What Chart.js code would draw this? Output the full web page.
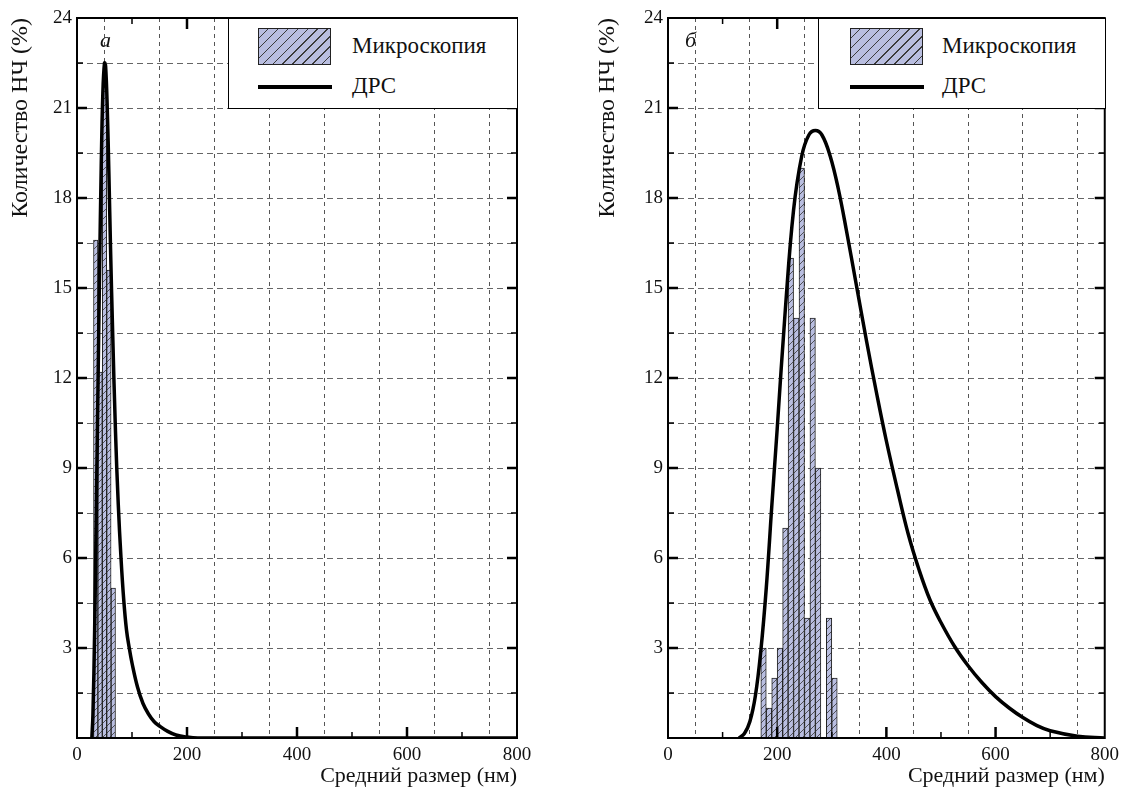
<!doctype html>
<html>
<head>
<meta charset="utf-8">
<title>Распределение НЧ по размерам</title>
<script src="https://cdn.jsdelivr.net/npm/chart.js@4.4.0/dist/chart.umd.min.js"></script>
<style>
  body { margin: 0; background: #fff; font-family: "Liberation Serif", "Times New Roman", Times, "DejaVu Serif", "Noto Serif", serif; }
  .wrap { position: relative; width: 1125px; height: 791px; overflow: hidden; }
  canvas { position: absolute; top: 0; }
  .legend { position: absolute; top: 18px; height: 91px; border: 1.6px solid #000; background: #fff; box-sizing: border-box; }
  .sw { position: absolute; left: 29px; top: 9px; width: 73px; height: 37px; border: 1.3px solid #222; box-sizing: border-box;
        background: repeating-linear-gradient(135deg, #b9bee0 0 6px, #3a3a3a 6px 7px); }
  .ln { position: absolute; left: 29px; top: 66px; width: 74px; height: 4px; background: #000; }
  .txt { position: absolute; left: 123px; font-size: 23px; line-height: 26px; color: #111; }
  .tag { position: absolute; top: 27px; font-size: 22px; font-style: italic; color: #111; }
</style>
</head>
<body>
<div class="wrap">
  <canvas id="chartA" width="560" height="791" style="left:0"></canvas>
  <canvas id="chartB" width="565" height="791" style="left:560px"></canvas>

  <div class="tag" style="left:100px">а</div>
  <div class="tag" style="left:685px">б</div>

  <div class="legend" style="left:228px; width:290px">
    <div class="sw"></div><div class="txt" style="top:14px">Микроскопия</div>
    <div class="ln"></div><div class="txt" style="top:54px">ДРС</div>
  </div>
  <div class="legend" style="left:818px; width:288px">
    <div class="sw" style="left:31px"></div><div class="txt" style="top:14px">Микроскопия</div>
    <div class="ln" style="left:31px"></div><div class="txt" style="top:54px">ДРС</div>
  </div>
</div>

<script>
// панель а: гистограмма (микроскопия), нм -> %
var binsA  = [34, 42, 50, 58, 66];
var countA = [16.6, 12.2, 21.7, 15.6, 5];
// панель а: кривая ДРС
var drsSizeA = [27, 29, 32, 35, 38, 41, 44, 47, 50, 52, 55, 58, 61, 65, 70, 75, 80, 85, 90, 95, 100, 110, 120, 130, 140, 150, 165, 180, 200, 220, 800];
var drsValA  = [0, 0.8, 3.5, 7.5, 11.5, 15.5, 19, 21.5, 22.5, 22.4, 21, 18.8, 16.3, 13.4, 10.2, 7.8, 6, 4.6, 3.6, 3, 2.5, 1.7, 1.15, 0.8, 0.55, 0.4, 0.22, 0.1, 0.03, 0, 0];

// панель б
var binsB  = [175, 185, 195, 205, 215, 225, 235, 245, 255, 265, 275, 295, 305];
var countB = [3, 1, 2, 3, 7, 16, 14, 19, 4, 14, 9, 4, 2];
var drsSizeB = [130, 140, 150, 160, 170, 180, 190, 200, 215, 230, 245, 258, 270, 282, 297, 312, 327, 345, 364, 382, 400, 420, 440, 460, 480, 500, 525, 550, 575, 600, 625, 650, 675, 700, 750, 800];
var drsValB  = [0, 0.15, 0.55, 1.4, 2.9, 5.0, 7.7, 10.3, 14.3, 17.6, 19.4, 20.1, 20.25, 20.1, 19.4, 18.3, 16.9, 15.1, 13.2, 11.5, 9.9, 8.3, 6.8, 5.6, 4.6, 3.85, 3.05, 2.4, 1.85, 1.38, 1.0, 0.68, 0.42, 0.24, 0.06, 0];

// подписи осей
var xTickLabels = [0, 200, 400, 600, 800];
var yTickLabels = [3, 6, 9, 12, 15, 18, 21, 24];

var serif = '"Liberation Serif", "Times New Roman", Times, "DejaVu Serif", "Noto Serif", serif';

function hatch() {
  var c = document.createElement('canvas');
  c.width = 7; c.height = 7;
  var g = c.getContext('2d');
  g.fillStyle = '#b9bee0';
  g.fillRect(0, 0, 7, 7);
  g.strokeStyle = '#333';
  g.lineWidth = 0.8;
  g.beginPath();
  g.moveTo(0, 7); g.lineTo(7, 0);
  g.moveTo(-1, 1); g.lineTo(1, -1);
  g.moveTo(6, 8); g.lineTo(8, 6);
  g.stroke();
  return g.createPattern(c, 'repeat');
}

// рамка и внутренние засечки
var framePlugin = {
  id: 'frame',
  afterDraw: function(chart) {
    var ctx = chart.ctx, a = chart.chartArea;
    var xs = chart.scales.x, ys = chart.scales.y;
    ctx.save();
    ctx.strokeStyle = '#000';
    ctx.lineCap = 'butt';
    for (var v = 100; v < 800; v += 100) {
      var px = xs.getPixelForValue(v);
      var big = v % 200 === 0;
      ctx.lineWidth = big ? 2.5 : 1.5;
      ctx.beginPath();
      ctx.moveTo(px, a.bottom); ctx.lineTo(px, a.bottom - (big ? 11 : 6));
      ctx.moveTo(px, a.top); ctx.lineTo(px, a.top + (big ? 11 : 6));
      ctx.stroke();
    }
    for (var w = 1.5; w < 24; w += 1.5) {
      var py = ys.getPixelForValue(w);
      var major = w % 3 === 0;
      ctx.lineWidth = major ? 2.5 : 1.5;
      ctx.beginPath();
      ctx.moveTo(a.left, py); ctx.lineTo(a.left + (major ? 10 : 6), py);
      ctx.moveTo(a.right, py); ctx.lineTo(a.right - (major ? 10 : 6), py);
      ctx.stroke();
    }
    ctx.lineWidth = 2;
    ctx.strokeRect(a.left, a.top, a.right - a.left, a.bottom - a.top);
    ctx.restore();
  }
};

function makePanel(id, bins, counts, sizes, vals, yAxisWidth, yTitlePad, rightPad) {
  var bars = bins.map(function(b, i) { return { x: b, y: counts[i] }; });
  var curve = sizes.map(function(s, i) { return { x: s, y: vals[i] }; });
  var font = { family: serif, size: 19 };
  return new Chart(document.getElementById(id).getContext('2d'), {
    type: 'line',
    data: {
      datasets: [{
        type: 'line',
        label: 'ДРС',
        data: curve,
        borderColor: '#000',
        borderWidth: 3.5,
        pointRadius: 0,
        fill: false,
        tension: 0.4,
        order: 0
      }, {
        type: 'bar',
        label: 'Микроскопия',
        data: bars,
        backgroundColor: hatch(),
        borderColor: '#222',
        borderWidth: 1,
        barPercentage: 1,
        categoryPercentage: 1,
        order: 1
      }]
    },
    plugins: [framePlugin],
    options: {
      responsive: false,
      animation: false,
      layout: { padding: { top: 18, right: rightPad, left: 0, bottom: 0 } },
      plugins: { legend: { display: false }, tooltip: { enabled: false } },
      scales: {
        x: {
          type: 'linear', min: 0, max: 800, offset: false,
          ticks: {
            stepSize: 100, color: '#111', font: font, padding: 6, maxRotation: 0, autoSkip: false,
            callback: function(v) { return xTickLabels.indexOf(v) >= 0 ? String(v) : ''; }
          },
          grid: { color: '#555', lineWidth: 1, drawTicks: false },
          border: { display: false, dash: [4, 4] },
          title: { display: true, text: 'Средний размер (нм)', align: 'end', color: '#111', font: { family: serif, size: 22 }, padding: { top: 0, bottom: 2 } },
          afterFit: function(s) { s.height = 53; }
        },
        y: {
          min: 0, max: 24,
          ticks: {
            stepSize: 1.5, color: '#111', font: font, padding: 5, autoSkip: false,
            callback: function(v) { return yTickLabels.indexOf(v) >= 0 ? String(v) : ''; }
          },
          grid: { color: '#666', lineWidth: 1, drawTicks: false },
          border: { display: false, dash: [6, 4] },
          title: { display: true, text: 'Количество НЧ (%)', align: 'end', color: '#111', font: { family: serif, size: 24 }, padding: { top: yTitlePad, bottom: 0 } },
          afterFit: function(s) { s.width = yAxisWidth; }
        }
      }
    }
  });
}

makePanel('chartA', binsA, countA, drsSizeA, drsValA, 77, 6, 43);
makePanel('chartB', binsB, countB, drsSizeB, drsValB, 108, 33, 20);
</script>
</body>
</html>
